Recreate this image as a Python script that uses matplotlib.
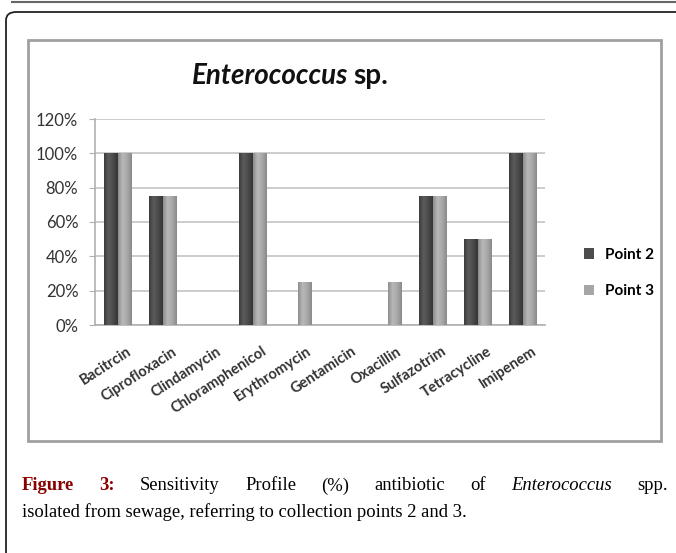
import numpy as np
import matplotlib
matplotlib.use("Agg")
from matplotlib import pyplot as plt
from matplotlib.patches import Rectangle, FancyBboxPatch
from matplotlib.colors import LinearSegmentedColormap
from matplotlib.ticker import PercentFormatter
from matplotlib.transforms import ScaledTranslation

drugs = ["Bacitrcin", "Ciprofloxacin", "Clindamycin", "Chloramphenicol",
         "Erythromycin", "Gentamicin", "Oxacillin", "Sulfazotrim",
         "Tetracycline", "Imipenem"]
point2 = [100, 75, 0, 100, 0, 0, 0, 75, 50, 100]
point3 = [100, 75, 0, 100, 25, 0, 25, 75, 50, 100]
yticks = [0, 20, 40, 60, 80, 100, 120]

W, H = 676, 553
fig = plt.figure(figsize=(W / 100, H / 100), dpi=100)

def px(x, y):
    return x / W, 1 - y / H

# frames
fig.add_artist(plt.Line2D([12 / W, 1], [1 - 1.5 / H] * 2, color="#666666", lw=1.5))
fig.add_artist(FancyBboxPatch(px(6, 600), (W + 20 - 6) / W, (600 - 12) / H,
                              boxstyle="round,pad=0,rounding_size=0.015",
                              transform=fig.transFigure, fill=False,
                              edgecolor="#222222", lw=1.3))
x0, y0 = px(28, 441)
fig.add_artist(Rectangle((x0, y0), (661 - 28) / W, (441 - 40) / H,
                         transform=fig.transFigure, fill=False,
                         edgecolor="#a0a0a0", lw=2))

l, b = px(95, 325)
ax = fig.add_axes([l, b, (545 - 95) / W, (325 - 119) / H])

x = np.arange(len(drugs))
w = 0.29
cm2 = LinearSegmentedColormap.from_list("p2", ["#3c3c3c", "#5c5c5c", "#4a4a4a", "#353535"])
cm3 = LinearSegmentedColormap.from_list("p3", ["#8e8e8e", "#b8b8b8", "#a8a8a8", "#8a8a8a"])
bars2 = ax.bar(x - w / 2, point2, w, color="#4d4d4d", lw=0, zorder=3, label="Point 2")
bars3 = ax.bar(x + w / 2, point3, w, color="#a6a6a6", lw=0, zorder=3, label="Point 3")
grad = np.linspace(0, 1, 50).reshape(1, -1)
for bars, cm in [(bars2, cm2), (bars3, cm3)]:
    for r in bars:
        if r.get_height() > 0:
            ax.imshow(grad, cmap=cm, aspect="auto", zorder=4,
                      extent=(r.get_x(), r.get_x() + r.get_width(), 0, r.get_height()))

ax.set_xlim(-0.5, len(drugs) - 0.5)
ax.set_ylim(0, 120)
ax.set_yticks(yticks)
ax.yaxis.set_major_formatter(PercentFormatter(decimals=0))
ax.yaxis.grid(True, color="#c4c4c4", lw=1.2, zorder=0)
for s in ["top", "right"]:
    ax.spines[s].set_visible(False)
for s in ["left", "bottom"]:
    ax.spines[s].set_color("#b0b0b0")
    ax.spines[s].set_linewidth(1.2)
ax.tick_params(axis="y", length=4, color="#b0b0b0", labelsize=12, labelcolor="#333333", pad=8)
ax.tick_params(axis="x", length=0, pad=14)
ax.set_xticks(x)
ax.set_xticklabels(drugs, rotation=33, ha="right", rotation_mode="anchor",
                   fontsize=10.5, fontweight="bold", color="#333333")
shift = ScaledTranslation(9 / 100, 0, fig.dpi_scale_trans)
for t in ax.get_xticklabels():
    t.set_transform(t.get_transform() + shift)
for t in ax.get_yticklabels() + ax.get_xticklabels():
    t.set_family("Lato")

fig.text(348 / W, 1 - 76 / H, "Enterococcus", ha="right", va="center",
         fontsize=20, fontweight="bold", style="italic", family="Lato", color="#111111")
fig.text(353 / W, 1 - 76 / H, "sp.", ha="left", va="center",
         fontsize=20, fontweight="bold", family="Lato", color="#111111")

leg = fig.legend(loc="center left", bbox_to_anchor=(570 / W, 1 - 273 / H),
                 frameon=False, prop={"family": "Lato", "weight": "bold", "size": 11},
                 handlelength=0.7, handleheight=0.7, handletextpad=0.7, labelspacing=1.5)

# caption, first line justified between x=22 and x=668
fs = 13.4
words = [("Figure", dict(fontweight="bold", color="#8b0000")),
         ("3:", dict(fontweight="bold", color="#8b0000")),
         ("Sensitivity", {}), ("Profile", {}), ("(%)", {}), ("antibiotic", {}),
         ("of", {}), ("Enterococcus", dict(style="italic")), ("spp.", {})]
fig.canvas.draw()
rend = fig.canvas.get_renderer()
cap_y1, cap_y2 = 1 - 486 / H, 1 - 512 / H
arts = []
for wd, kw in words:
    arts.append(fig.text(0, cap_y1, wd, fontsize=fs, family="Liberation Serif",
                         va="center", **kw))
widths = [a.get_window_extent(rend).width for a in arts]
gap = (668 - 22 - sum(widths)) / (len(words) - 1)
xp = 22
for a, wdt in zip(arts, widths):
    a.set_x(xp / W)
    xp += wdt + gap
fig.text(22 / W, cap_y2, "isolated from sewage, referring to collection points 2 and 3.",
         fontsize=fs, family="Liberation Serif", va="center")

fig.savefig("out.png", dpi=100)
